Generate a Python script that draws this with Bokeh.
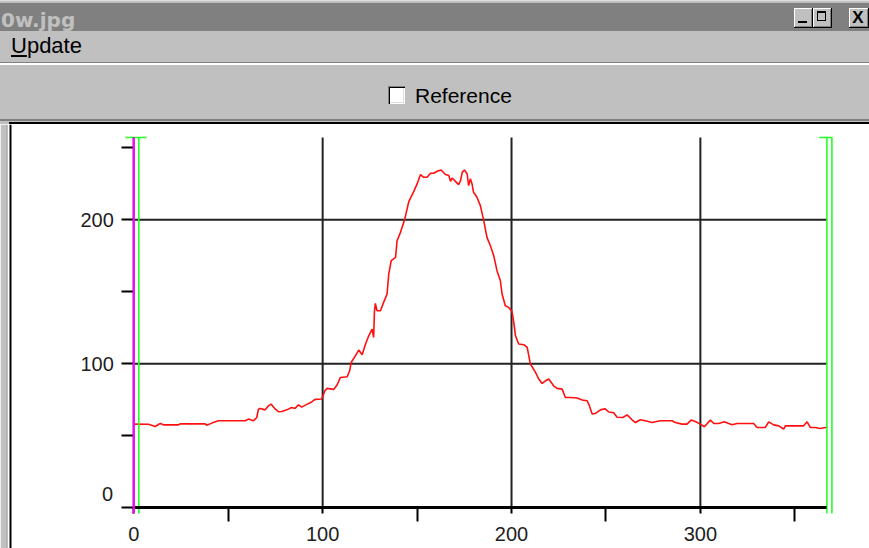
from bokeh.plotting import figure
from bokeh.models import Div, Range1d, FixedTicker, Label, BoxAnnotation
from bokeh.layouts import column
from bokeh.embed import file_html
from bokeh.resources import INLINE

# ---------------- data ----------------
profile_x = [0, 7.8, 11.3, 14, 15.7, 23.7, 24.5, 37.8, 38.6, 41.3,
             44.8, 59, 60.7, 63.4, 65.1, 66, 66.9, 69.6, 71.3, 72.7,
             74.9, 76.6, 78.4, 81, 83.6, 85.4, 87.2, 88.9, 91.6, 94.2,
             96, 99.5, 100.4, 101.2, 102.4, 105.9, 107.7, 109.4, 113, 114.3,
             115.1, 117.4, 119.1, 120.9, 122.7, 124.4, 126.2, 127, 127.4, 127.9,
             128.8, 130.6, 132.3, 134.1, 135, 136.3, 138.6, 139.4, 141.2, 143.5,
             145.6, 148.2, 150, 151.8, 153.5, 155.3, 157.1, 158.8, 160.6, 162.7,
             165, 166.8, 167.7, 168.6, 170.3, 172, 173, 173.9, 175.1, 176.5,
             177.3, 178.2, 179.1, 179.9, 181.7, 183.5, 185.3, 187, 188.8, 190.6,
             192.3, 194.1, 195, 196.7, 198.5, 200.3, 201.2, 202.1, 203.8, 206.5,
             208.3, 210, 212.7, 214.4, 216.2, 218, 219.7, 222.3, 224.1, 226.8,
             228.5, 231.2, 234.7, 237.4, 240, 240.9, 242.7, 244.4, 247.1, 249.5,
             251.5, 254.1, 255.9, 259, 261.2, 263.8, 265.6, 268.2, 270.9, 274.4,
             278.8, 285, 286.7, 290.3, 292.9, 295.1, 297.3, 300, 302.1, 305.3,
             307.1, 309.7, 312.7, 315, 316.8, 319.4, 328.2, 330, 334.4, 336.2,
             338.8, 341.5, 344.1, 345, 354.7, 356.5, 358.2, 360.9, 363.5, 366.2, 367]
profile_y = [58.1, 58, 56.5, 58.5, 57.6, 57.6, 58.3, 58.3, 57.4, 58.8,
             60.4, 60.4, 61.6, 60.4, 62.7, 68.5, 69, 68, 70.8, 72,
             68.5, 66.7, 66.9, 68, 69.7, 69, 71.5, 69.9, 71.8, 73.5,
             75.3, 75.5, 78.5, 81.3, 82.9, 82.2, 85.4, 90.5, 91, 95.1,
             100.9, 105.6, 109.5, 106.3, 113.7, 119.4, 124.1, 118.3, 135.6, 141.9,
             136.8, 136.8, 142.6, 148.4, 162.3, 171.5, 173.8, 185.4, 191.2, 200.5,
             212.5, 219.5, 224.8, 231.3, 229.4, 229.4, 232.2, 232.2, 233.6, 234.5,
             231.3, 230.6, 226.6, 228.9, 226.6, 224.3, 227.1, 232.8, 234.5, 231.7,
             223.6, 228.3, 224.8, 219, 215.5, 209.7, 199.3, 187.7, 181.9, 175,
             164.6, 157.6, 148.4, 140.3, 139.1, 136.2, 128.7, 119.4, 113.7, 113.2,
             111.3, 99.8, 94, 89.4, 86.3, 88.2, 89.4, 84.7, 82.9, 82.4,
             76.6, 76.6, 76.2, 74.8, 74.3, 72, 65.1, 65.5, 68, 68.8,
             66.5, 66, 62.9, 62.7, 64.5, 61.1, 59.2, 61.1, 60.4, 59.2,
             60.4, 60.4, 59.2, 58.1, 58.1, 60.9, 59.9, 58.1, 56.3, 60.9,
             58.5, 58.5, 59.7, 58.5, 57.6, 58.5, 58.5, 55.8, 55.8, 59.7,
             57.6, 56.9, 54.7, 56.9, 56.9, 59.7, 55.8, 55.8, 55.1, 55.8, 55.8]

x_major_ticks = [0, 100, 200, 300]
x_minor_ticks = [50, 150, 250, 350]
y_major_ticks = [0, 100, 200]
y_minor_ticks = [50, 150, 250]
x_grid_values = [100, 200, 300]
y_grid_values = [100, 200]
x_axis_max = 367
y_axis_max = 257
cursor_x = [0]
range_low = 0
range_high = 367

title_text = "0w.jpg"
menu_text = "Update"
checkbox_text = "Reference"

# ---------------- chrome (window) ----------------
PAGE_W = 869
CHROME_H = 124
btn = ("position:absolute;top:8px;width:18px;height:20px;background:#c0c0c0;"
       "box-shadow:inset -1px -1px #000, inset 1px 1px #fff, inset -2px -2px #808080;")
chrome_html = f"""
<div style="position:relative;width:{PAGE_W}px;height:{CHROME_H}px;background:#c0c0c0;overflow:hidden;font-family:'Liberation Sans',Arial,sans-serif;color:#000;">
  <div style="position:absolute;left:0;top:0;width:{PAGE_W}px;height:1px;background:#dfdfdf;"></div>
  <div style="position:absolute;left:0;top:3px;width:{PAGE_W}px;height:28px;background:#808080;"></div>
  <div style="position:absolute;left:1px;top:8px;font:bold 20px/24px 'DejaVu Sans',sans-serif;color:#c0c0c0;white-space:nowrap;">{title_text}</div>
  <div style="{btn}left:794px;width:19px;"><div style="position:absolute;left:4px;top:13px;width:9px;height:2px;background:#000;"></div></div>
  <div style="{btn}left:813px;width:19px;"><div style="position:absolute;left:4px;top:3px;width:9px;height:10px;border:1px solid #000;border-top-width:2px;"></div></div>
  <div style="{btn}left:849px;width:20px;"><div style="position:absolute;left:0;top:1px;width:18px;text-align:center;font:bold 17px/18px 'Liberation Sans',sans-serif;">X</div></div>
  <div style="position:absolute;left:11px;top:33px;font-size:22px;line-height:26px;white-space:nowrap;"><u>{menu_text[0]}</u>{menu_text[1:]}</div>
  <div style="position:absolute;left:0;top:62px;width:{PAGE_W}px;height:1px;background:#808080;"></div>
  <div style="position:absolute;left:0;top:63px;width:{PAGE_W}px;height:2px;background:#fff;"></div>
  <div style="position:absolute;left:388px;top:86px;width:17px;height:18px;background:#fff;box-shadow:inset 1px 1px #808080, inset 2px 2px #000, inset -1px -1px #fff, inset -2px -2px #dfdfdf;"></div>
  <div style="position:absolute;left:415px;top:84px;font-size:21px;line-height:24px;white-space:nowrap;">{checkbox_text}</div>
  <div style="position:absolute;left:0;top:119px;width:{PAGE_W}px;height:2px;background:#808080;"></div>
  <div style="position:absolute;left:9px;top:122px;width:{PAGE_W}px;height:2px;background:#000;"></div>
</div>
"""
chrome = Div(text=chrome_html, width=PAGE_W, height=CHROME_H, margin=(0, 0, 0, 0))

# ---------------- plot ----------------
W, H = PAGE_W, 548 - CHROME_H
sx = 1.8886                      # pixels per x unit
sy = 1.441                       # pixels per y unit
x0_px, y0_px = 133.3, 507.35 - CHROME_H
x_lo, x_hi = -x0_px / sx, (W - x0_px) / sx
y_lo, y_hi = -(H - y0_px) / sy, y0_px / sy

p = figure(width=W, height=H, x_range=Range1d(x_lo, x_hi), y_range=Range1d(y_lo, y_hi),
           output_backend="svg", toolbar_location=None, title=None,
           min_border=0, min_border_left=0, min_border_right=0,
           min_border_top=0, min_border_bottom=0,
           background_fill_color="white", border_fill_color="white",
           outline_line_color=None)
p.xgrid.visible = False
p.ygrid.visible = False

# grid lines
p.segment(x0=x_grid_values, y0=[0] * len(x_grid_values), x1=x_grid_values,
          y1=[y_axis_max] * len(x_grid_values), line_color="#222222", line_width=2)
p.segment(x0=[0] * len(y_grid_values), y0=y_grid_values, x1=[x_axis_max] * len(y_grid_values),
          y1=y_grid_values, line_color="#222222", line_width=2)

# profile
p.line(profile_x, profile_y, line_color="#ff1010", line_width=1.6)

# range markers (green brackets)
gap = 5 / sx
stem_bottom = -5.6 / sy
for m, cap_l, cap_r in [(range_low, -8.3, 12.7), (range_high, -7.7, 5.5)]:
    p.segment(x0=[m, m + gap], y0=[stem_bottom] * 2, x1=[m, m + gap], y1=[y_axis_max] * 2,
              line_color="#22ff22", line_width=1.6)
    p.segment(x0=[m + cap_l / sx], y0=[y_axis_max], x1=[m + cap_r / sx], y1=[y_axis_max],
              line_color="#22ff22", line_width=1.6)

# cursor (magenta)
p.segment(x0=cursor_x, y0=[stem_bottom], x1=cursor_x, y1=[y_axis_max],
          line_color="#ff00ff", line_width=2.2, level="overlay")

label_font = "Liberation Sans"
label_color = "#1e1e1e"

xa = p.xaxis[0]
xa.fixed_location = 0
xa.bounds = (0, x_axis_max)
xa.ticker = FixedTicker(ticks=x_major_ticks, minor_ticks=x_minor_ticks)
xa.axis_line_width = 3
xa.axis_line_color = "black"
xa.major_tick_in = 0
xa.major_tick_out = 6
xa.minor_tick_in = 0
xa.minor_tick_out = 14
xa.major_tick_line_width = 2
xa.minor_tick_line_width = 2
xa.major_tick_line_color = "black"
xa.minor_tick_line_color = "black"
xa.major_label_text_font = label_font
xa.major_label_text_font_size = "20px"
xa.major_label_text_color = label_color
xa.major_label_standoff = 5

ya = p.yaxis[0]
ya.fixed_location = 0
ya.bounds = (0, y_axis_max)
ya.ticker = FixedTicker(ticks=y_major_ticks, minor_ticks=y_minor_ticks)
ya.axis_line_width = 1.5
ya.axis_line_color = "black"
ya.major_tick_in = 0
ya.major_tick_out = 12
ya.minor_tick_in = 0
ya.minor_tick_out = 12
ya.major_tick_line_width = 2
ya.minor_tick_line_width = 2
ya.major_tick_line_color = "black"
ya.minor_tick_line_color = "black"
ya.major_label_text_font = label_font
ya.major_label_text_font_size = "20px"
ya.major_label_text_color = label_color
ya.major_label_standoff = 8
ya.major_label_overrides = {0: ""}

zero_label = Label(x=0, y=0, x_offset=-20.6, y_offset=13.4, text="0",
                   text_align="right", text_baseline="middle",
                   text_font=label_font, text_font_size="20px", text_color=label_color)
p.add_layout(zero_label)

# left border of the chart panel
p.add_layout(BoxAnnotation(left=0, right=6, left_units="screen", right_units="screen",
                           fill_color="#c0c0c0", fill_alpha=1, line_color=None))
p.add_layout(BoxAnnotation(left=6, right=7, left_units="screen", right_units="screen",
                           fill_color="#808080", fill_alpha=1, line_color=None))
p.add_layout(BoxAnnotation(left=9, right=11, left_units="screen", right_units="screen",
                           fill_color="black", fill_alpha=1, line_color=None))

layout = column(chrome, p, spacing=0)
open("out.html", "w").write(file_html(layout, INLINE))
